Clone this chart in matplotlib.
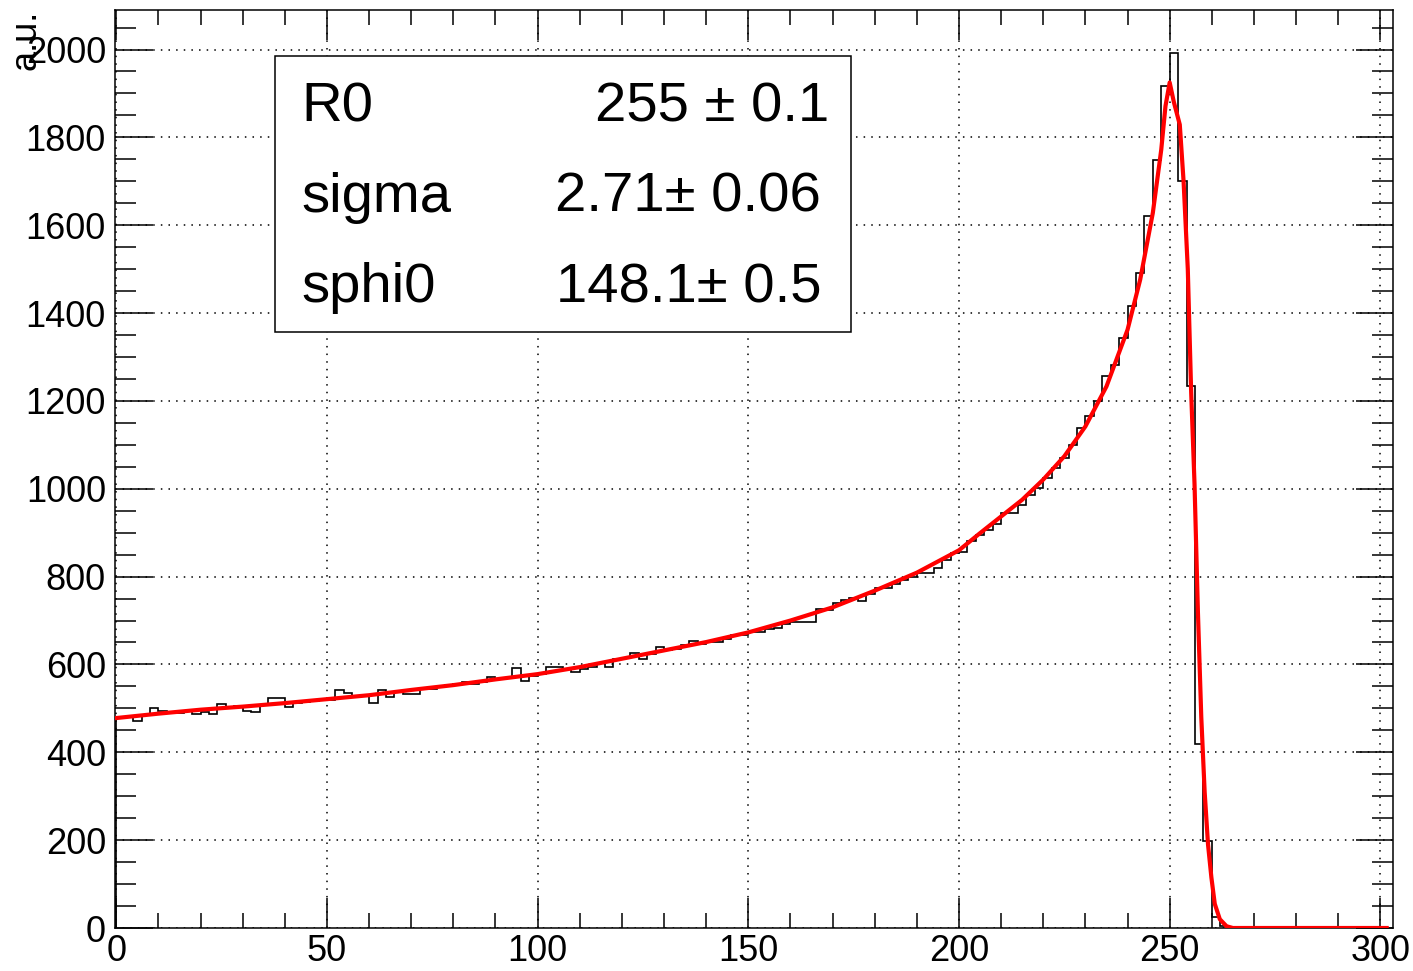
import numpy as np
import matplotlib
matplotlib.use("Agg")
import matplotlib.pyplot as plt
from matplotlib.ticker import MultipleLocator
from matplotlib.patches import Rectangle

# ---------------- data ----------------
bin_width = 2
counts = [
    478, 481, 472, 485, 500, 495, 489, 490, 495, 487,
    492, 487, 509, 504, 505, 495, 491, 508, 524, 524,
    504, 513, 515, 517, 519, 520, 542, 536, 527, 530,
    513, 542, 527, 538, 532, 532, 543, 545, 549, 553,
    556, 560, 555, 560, 572, 568, 570, 591, 563, 574,
    579, 594, 594, 590, 583, 590, 595, 603, 594, 612,
    615, 626, 613, 624, 639, 632, 635, 645, 653, 647,
    650, 652, 657, 666, 666, 675, 673, 681, 683, 691,
    696, 696, 697, 726, 724, 739, 746, 752, 745, 760,
    775, 774, 783, 792, 799, 809, 809, 820, 837, 854,
    857, 880, 895, 905, 920, 944, 944, 963, 986, 1001,
    1024, 1047, 1070, 1100, 1138, 1165, 1199, 1256, 1282, 1343,
    1415, 1492, 1621, 1749, 1918, 1991, 1700, 1233, 418, 197,
    25, 4, 0, 0, 0, 0, 0, 0, 0, 0,
    0, 0, 0, 0, 0, 0, 0, 0, 0, 0,
]

fit_x = [0, 10, 20, 30, 40, 50, 60, 70, 80, 90, 100, 110, 120, 130, 140, 150,
         160, 170, 180, 190, 200, 205, 210, 215, 220, 225, 230, 235, 240, 243,
         246, 248, 249, 250, 251, 252.4, 253.3, 254.3, 255.1, 255.9, 256.7,
         257.5, 258.3, 259.1, 259.9, 260.7, 261.9, 263.5, 265, 270, 301.5]
fit_y = [478, 488, 497, 504, 512, 521, 530, 542, 553, 566, 578, 594, 613, 632,
         651, 673, 700, 730, 768, 809, 860, 899, 937, 975, 1021, 1074, 1142,
         1233, 1362, 1476, 1628, 1772, 1871, 1925, 1880, 1829, 1700, 1500, 1220,
         1010, 720, 480, 310, 190, 115, 55, 20, 4, 0, 0, 0]

x_ticks = [0, 50, 100, 150, 200, 250, 300]
y_ticks = [0, 200, 400, 600, 800, 1000, 1200, 1400, 1600, 1800, 2000]

stat_names = ["R0", "sigma", "sphi0"]
stat_values = ["255 \u00b1 0.1", "2.71\u00b1 0.06", "148.1\u00b1 0.5"]
y_label = "a.u."

# ---------------- figure ----------------
plt.rcParams['font.family'] = ['Liberation Sans', 'DejaVu Sans']

W, H = 1413, 971
fig = plt.figure(figsize=(W / 100, H / 100), dpi=100)
L, R, T, B = 115, 1393, 10, 928
ax = fig.add_axes([L / W, 1 - B / H, (R - L) / W, (B - T) / H])

edges = np.arange(len(counts) + 1) * bin_width
ax.stairs(counts, edges, color='black', lw=1.2, zorder=3)
ax.plot(fit_x, fit_y, color='red', lw=3.0, zorder=4, solid_joinstyle='round')

ax.set_xlim(-0.3, 303)
ax.set_ylim(0, 2090)

ax.set_xticks(x_ticks)
ax.set_yticks(y_ticks)
ax.xaxis.set_minor_locator(MultipleLocator(10))
ax.yaxis.set_minor_locator(MultipleLocator(50))

ax.tick_params(which='both', direction='in', top=True, right=True, width=1.1,
               labelsize=26, colors='black')
ax.tick_params(axis='x', which='major', length=21.6, pad=4)
ax.tick_params(axis='x', which='minor', length=10.8)
ax.tick_params(axis='y', which='major', length=27, pad=6.5)
ax.tick_params(axis='y', which='minor', length=15)

for s in ax.spines.values():
    s.set_linewidth(1.1)
    s.set_color('black')

ax.set_axisbelow(True)
ax.grid(True, which='major', color='black', linestyle=(0, (1, 4)), lw=1.1)

fig.text(26 / W, 1 - 10 / H, y_label, rotation=90, ha='center', va='top',
         fontsize=26)

# stats box
bx0, bx1 = (275 - L) / (R - L), (851 - L) / (R - L)
by0, by1 = (B - 332) / (B - T), (B - 56) / (B - T)
ax.add_patch(Rectangle((bx0, by0), bx1 - bx0, by1 - by0, transform=ax.transAxes,
                       facecolor='white', edgecolor='black', lw=1.1, zorder=10))
baselines = [122, 212, 302]
right_edges = [829, 821, 821]
for name, val, yb, xr in zip(stat_names, stat_values, baselines, right_edges):
    yy = (B - yb) / (B - T)
    ax.text((301 - L) / (R - L), yy, name, transform=ax.transAxes,
            ha='left', va='baseline', fontsize=40.5, zorder=11)
    ax.text((xr - L) / (R - L), yy, val, transform=ax.transAxes,
            ha='right', va='baseline', fontsize=40.5, zorder=11)

fig.savefig("out.png", dpi=100)
